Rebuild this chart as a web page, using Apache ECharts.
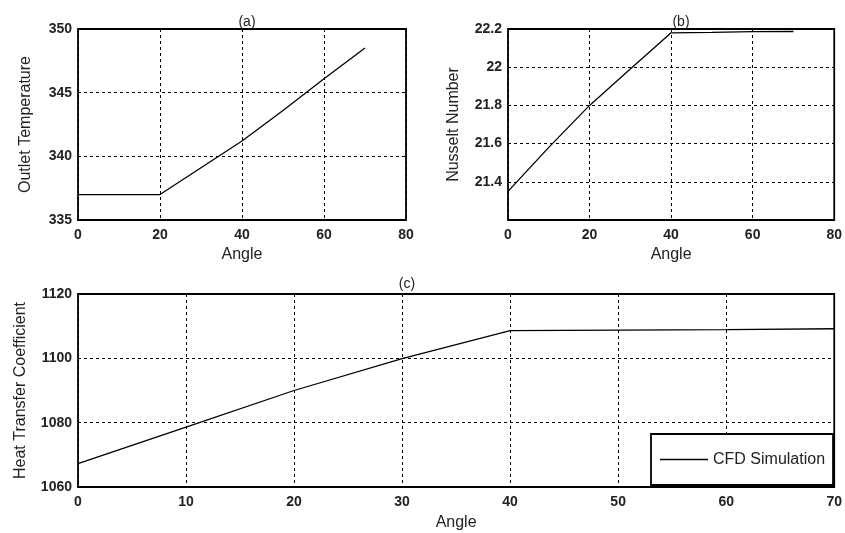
<!DOCTYPE html>
<html>
<head>
<meta charset="utf-8">
<script src="https://cdn.jsdelivr.net/npm/echarts@6/dist/echarts.min.js"></script>
<style>html,body{margin:0;padding:0;background:#fff}#c{width:845px;height:533px}</style>
</head>
<body>
<div id="c"></div>
<script>
var angles = [0, 10, 20, 30, 40, 50, 60, 70];
var outletTemp = [337.0, 337.0, 337.0, 339.1, 341.2, 343.6, 346.1, 348.5];
var nusselt = [21.35, 21.58, 21.80, 21.99, 22.18, 22.182, 22.186, 22.187];
var htc = [1067.3, 1078.6, 1090.0, 1099.9, 1108.6, 1108.8, 1108.9, 1109.2];
var panelTitles = ['(a)', '(b)', '(c)'];
var xNames = ['Angle', 'Angle', 'Angle'];
var yNames = ['Outlet Temperature', 'Nusselt Number', 'Heat Transfer Coefficient'];
var seriesName = 'CFD Simulation';

function pairs(xs, ys) { return xs.map(function (x, i) { return [x, ys[i]]; }); }

var font = 'Liberation Sans, Arial, sans-serif';
var splitLine = { show: true, lineStyle: { color: '#000', type: [3, 3], width: 1 } };
var labelStyle = { color: '#222', fontSize: 14, fontWeight: 'bold', fontFamily: font };
var nameStyle = { color: '#222', fontSize: 16, fontFamily: font };
var titleStyle = { fontSize: 14, fontWeight: 'normal', color: '#222', fontFamily: font };

function plain(v) { return String(Math.round(v * 10) / 10); }

function xAxis(idx, min, max, interval, gap) {
  return {
    type: 'value', gridIndex: idx, min: min, max: max, interval: interval,
    name: xNames[idx], nameLocation: 'middle', nameGap: gap, nameTextStyle: nameStyle,
    axisLine: { show: false }, axisTick: { show: false },
    axisLabel: Object.assign({ formatter: plain }, labelStyle), splitLine: splitLine
  };
}
function yAxis(idx, min, max, interval, gap, fmt) {
  return {
    type: 'value', gridIndex: idx, min: min, max: max, interval: interval,
    name: yNames[idx], nameLocation: 'middle', nameGap: gap, nameTextStyle: nameStyle,
    axisLine: { show: false }, axisTick: { show: false },
    axisLabel: Object.assign({ margin: 6, formatter: fmt || plain }, labelStyle),
    splitLine: splitLine
  };
}

var chart = echarts.init(document.getElementById('c'), null, { renderer: 'canvas' });
chart.setOption({
  backgroundColor: '#fff',
  animation: false,
  title: [
    { text: panelTitles[0], left: 242, top: 10, textAlign: 'center', textStyle: titleStyle },
    { text: panelTitles[1], left: 676, top: 10, textAlign: 'center', textStyle: titleStyle },
    { text: panelTitles[2], left: 402, top: 272, textAlign: 'center', textStyle: titleStyle }
  ],
  grid: [
    { left: 78, top: 29, width: 328, height: 191, show: true, borderColor: '#000', borderWidth: 1.8, backgroundColor: 'transparent' },
    { left: 508, top: 29, width: 328, height: 191, show: true, borderColor: '#000', borderWidth: 1.8, backgroundColor: 'transparent' },
    { left: 78, top: 294, width: 758, height: 193, show: true, borderColor: '#000', borderWidth: 1.8, backgroundColor: 'transparent' }
  ],
  xAxis: [
    xAxis(0, 0, 80, 20, 27),
    xAxis(1, 0, 80, 20, 27),
    xAxis(2, 0, 70, 10, 28)
  ],
  yAxis: [
    yAxis(0, 335, 350, 5, 44),
    yAxis(1, 21.2, 22.2, 0.2, 46, function (v) { return Math.abs(v - 21.2) < 1e-6 ? '' : plain(v); }),
    yAxis(2, 1060, 1120, 20, 49)
  ],
  legend: {
    data: [{ name: seriesName, icon: 'rect' }], left: 651, top: 434,
    orient: 'vertical',
    padding: [17, 8, 17, 9],
    borderColor: '#000', borderWidth: 1.8, backgroundColor: '#fff',
    itemWidth: 48, itemHeight: 1.3, itemGap: 0,
    itemStyle: { color: '#000' },
    textStyle: { fontSize: 16, color: '#222', fontFamily: font, lineHeight: 17 }
  },
  series: [
    { type: 'line', name: 'a', xAxisIndex: 0, yAxisIndex: 0, data: pairs(angles, outletTemp), symbol: 'none', lineStyle: { color: '#000', width: 1.3 }, itemStyle: { color: '#000' } },
    { type: 'line', name: 'b', xAxisIndex: 1, yAxisIndex: 1, data: pairs(angles, nusselt), symbol: 'none', lineStyle: { color: '#000', width: 1.3 }, itemStyle: { color: '#000' } },
    { type: 'line', name: seriesName, xAxisIndex: 2, yAxisIndex: 2, data: pairs(angles, htc), symbol: 'none', lineStyle: { color: '#000', width: 1.3 }, itemStyle: { color: '#000' } }
  ]
});
</script>
</body>
</html>
